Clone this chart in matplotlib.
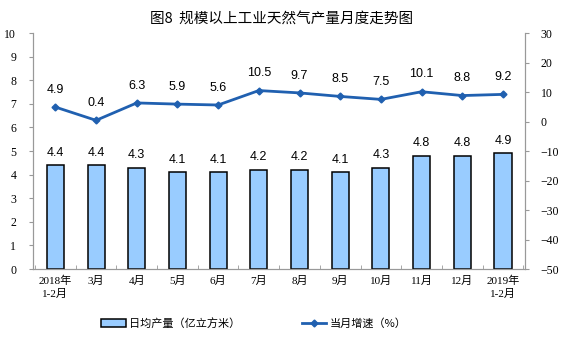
import matplotlib
matplotlib.use('Agg')
import matplotlib.pyplot as plt
import numpy as np

# data
months = ['2018年\n1-2月', '3月', '4月', '5月', '6月', '7月', '8月', '9月',
          '10月', '11月', '12月', '2019年\n1-2月']
daily_output = [4.4, 4.4, 4.3, 4.1, 4.1, 4.2, 4.2, 4.1, 4.3, 4.8, 4.8, 4.9]
growth = [4.9, 0.4, 6.3, 5.9, 5.6, 10.5, 9.7, 8.5, 7.5, 10.1, 8.8, 9.2]

serif = ['Liberation Serif', 'Noto Sans CJK SC']
cjk = ['Noto Sans CJK SC', 'DejaVu Sans']
plt.rcParams['font.family'] = serif

fig = plt.figure(figsize=(5.64, 3.44), dpi=100)
ax = fig.add_axes([0.0585, 0.218, 0.873, 0.686])
ax2 = ax.twinx()

x = np.arange(len(months))
bar_color = '#99CCFF'
line_color = '#2060B0'
axis_gray = '#999999'

ax.bar(x, daily_output, width=0.42, color=bar_color, edgecolor='black',
       linewidth=1.1, label='日均产量（亿立方米）', zorder=2)
for xi, v in zip(x, daily_output):
    ax.annotate(f'{v:.1f}', (xi, v), xytext=(0, 9), textcoords='offset points',
                ha='center', va='center', fontsize=9, family='Liberation Sans')

ax2.plot(x, growth, color=line_color, linewidth=2, marker='D', markersize=3.5,
         label='当月增速（%）', zorder=3)
for xi, v in zip(x, growth):
    ax2.annotate(f'{v:.1f}', (xi, v), xytext=(0, 12.5), textcoords='offset points',
                 ha='center', va='center', fontsize=9, family='Liberation Sans')

ax.set_xlim(-0.55, len(months) - 0.45)
ax.set_ylim(0, 10)
ax.set_yticks(range(0, 11))
ax2.set_ylim(-50, 30)
ax2.set_yticks(range(-50, 31, 10))

ax.set_xticks(x)
ax.set_xticklabels(months, fontsize=8, linespacing=1.3)
ax.set_xticks(np.arange(-0.5, len(months), 1), minor=True)
ax.tick_params(axis='x', which='major', length=0, pad=5)
ax.tick_params(axis='x', which='minor', length=3, direction='in', color=axis_gray)

ax.tick_params(axis='y', labelsize=8.5, length=3, color=axis_gray, pad=9)
ax2.tick_params(axis='y', labelsize=8.5, length=3, color=axis_gray, pad=8)

for a in (ax, ax2):
    a.spines['top'].set_visible(False)
    a.spines['left'].set_color(axis_gray)
    a.spines['right'].set_color(axis_gray)
    a.spines['bottom'].set_color(axis_gray)

fig.suptitle('图8  规模以上工业天然气产量月度走势图', y=0.965, fontsize=10.5,
             family=cjk)

h1, l1 = ax.get_legend_handles_labels()
h2, l2 = ax2.get_legend_handles_labels()
fig.legend(h1 + h2, l1 + l2, loc='lower center', bbox_to_anchor=(0.45, 0.015),
           ncol=2, frameon=False, prop={'family': cjk, 'size': 8},
           columnspacing=5.5, handlelength=2.2, handletextpad=0.3)

fig.savefig('out.png', dpi=100)
